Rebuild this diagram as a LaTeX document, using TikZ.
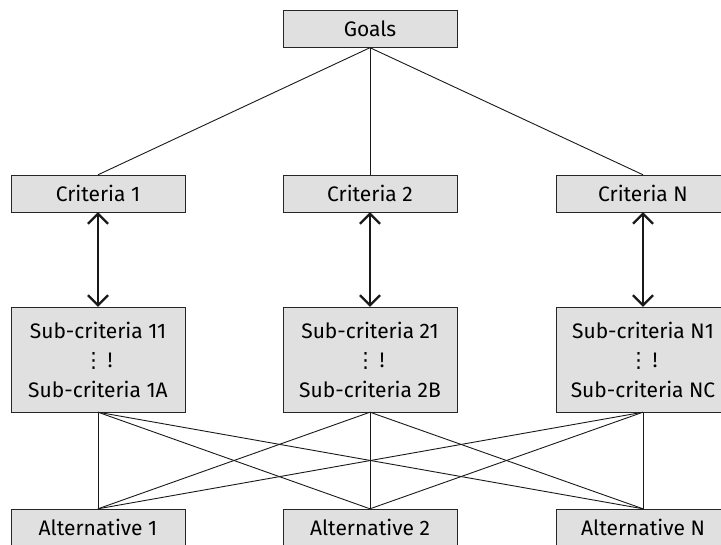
\documentclass[tikz,border=0pt]{standalone}
\usepackage{fontspec}
\setmainfont{Fira Sans}
\newfontfamily\dotsfont{DejaVu Sans}
\usetikzlibrary{arrows.meta}
\begin{document}
\begin{tikzpicture}[x=1pt,y=-1pt,
  every node/.style={draw=black!85,fill=black!12,minimum width=174pt,minimum height=37pt,
    inner sep=0pt,align=center,font=\fontsize{21}{29.5}\selectfont},
  link/.style={black!90,line width=0.9pt},
  twoway/.style={{Straight Barb[length=10pt,width=20pt]}-{Straight Barb[length=10pt,width=20pt]},line width=2.2pt,black!90}]
  \clip (0,0) rectangle (721,545);
  \useasboundingbox (0,0) rectangle (721,545);
  \node (G) at (370,29) {Goals};
  \foreach \i/\x/\t/\a in {1/98/1/A, 2/370/2/B, 3/643/N/C}{
    \node (C\i) at (\x,193.5) {Criteria \t};
    \node[minimum height=105pt] (S\i) at (\x,359.5) {Sub-criteria \t1\\{\dotsfont ⋮}\,!\\Sub-criteria \t\a};
    \node (A\i) at (\x,527.5) {Alternative \t};
  }
  \foreach \i in {1,2,3}{
    \draw[link] (G.south) -- (C\i.north);
    \draw[twoway] (C\i.south) -- (S\i.north);
    \foreach \j in {1,2,3}
      \draw[link] (S\i.south) -- (A\j.north);
  }
\end{tikzpicture}
\end{document}
